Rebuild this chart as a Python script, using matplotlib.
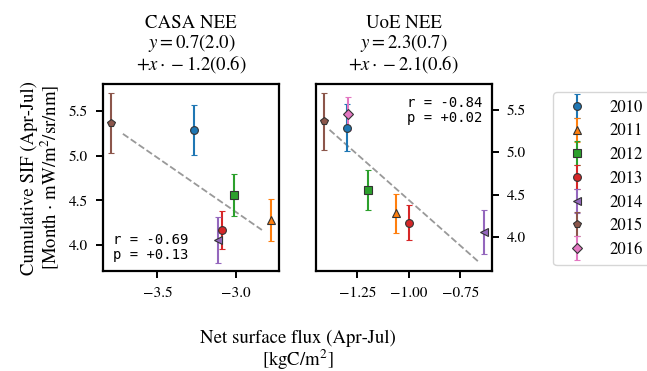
import numpy as np
import matplotlib
matplotlib.use("Agg")
import matplotlib.pyplot as plt
from matplotlib.container import ErrorbarContainer
from matplotlib.legend_handler import HandlerErrorbar

plt.rcParams['font.family'] = ['STIXGeneral', 'DejaVu Serif']
plt.rcParams['mathtext.fontset'] = 'stix'

years = ['2010', '2011', '2012', '2013', '2014', '2015', '2016']
colors = ['#1f77b4', '#ff7f0e', '#2ca02c', '#d62728', '#9467bd', '#8c564b', '#e377c2']
markers = ['o', '^', 's', 'o', '<', 'p', 'D']

sif = [5.29, 4.28, 4.56, 4.17, 4.06, 5.365, 5.455]
sif_err = [0.28, 0.23, 0.235, 0.21, 0.255, 0.337, 0.195]

casa_nee = [-3.266, -2.772, -3.011, -3.085, -3.113, -3.794, np.nan]
uoe_nee = [-1.30, -1.061, -1.20, -1.00, -0.636, -1.412, -1.296]

casa_fit = (0.742, -1.21)   # intercept, slope
uoe_fit = (2.287, -2.15)
casa_line_x = [-3.72, -2.832]
uoe_line_x = [-1.385, -0.657]

titles = ['CASA NEE\n$y = 0.7(2.0)$\n$+x \\cdot -1.2(0.6)$',
          'UoE NEE\n$y = 2.3(0.7)$\n$+x \\cdot -2.1(0.6)$']
stats = ['r = -0.69\np = +0.13', 'r = -0.84\np = +0.02']

fig = plt.figure(figsize=(6.47, 3.71), dpi=100)
W, H = 647, 371
ax1 = fig.add_axes([103.3 / W, 1 - 271 / H, 176 / W, 186.7 / H])
ax2 = fig.add_axes([316 / W, 1 - 271 / H, 175.7 / W, 186.7 / H])

for ax, xs, fit, lx, title, st in [
        (ax1, casa_nee, casa_fit, casa_line_x, titles[0], stats[0]),
        (ax2, uoe_nee, uoe_fit, uoe_line_x, titles[1], stats[1])]:
    lx = np.array(lx)
    ax.plot(lx, fit[0] + fit[1] * lx, ls='--', color='#999999', lw=1.3, zorder=1)
    for i, yr in enumerate(years):
        if np.isnan(xs[i]):
            continue
        ax.errorbar([xs[i]], [sif[i]], yerr=[sif_err[i]], fmt=markers[i],
                    color=colors[i], mfc=colors[i], mec='#333333', mew=0.8,
                    ms=5.6, capsize=2.5, elinewidth=1.5, capthick=1.5,
                    label=yr, zorder=3)
    ax.set_title(title, fontsize=13.5, linespacing=0.98, pad=10.5)
    for s in ax.spines.values():
        s.set_linewidth(1.6)
    ax.tick_params(direction='out', length=5, width=1.4, labelsize=11, pad=6)

ax1.text(0.055, 0.05, stats[0], transform=ax1.transAxes, family='DejaVu Sans Mono',
         fontsize=10, ha='left', va='bottom', linespacing=1.1)
ax2.text(0.945, 0.94, stats[1], transform=ax2.transAxes, family='DejaVu Sans Mono',
         fontsize=10, ha='right', va='top', linespacing=1.1)

ax1.set_xticks([-3.5, -3.0])
ax1.set_yticks([4.0, 4.5, 5.0, 5.5])
ax2.set_xticks([-1.25, -1.0, -0.75])
ax2.set_yticks([4.0, 4.5, 5.0, 5.5])
ax2.yaxis.tick_right()

ax1.set_ylabel('Cumulative SIF (Apr-Jul)\n[Month $\\cdot$ mW/m$^2$/sr/nm]', fontsize=13.5,
               linespacing=1.0, labelpad=6)

fig.text((103.3 + 491.7) / 2 / W, 1 - 350.5 / H, 'Net surface flux (Apr-Jul)\n[kgC/m$^2$]',
         ha='center', va='center', fontsize=13.5, linespacing=1.05)

handles, labels = ax2.get_legend_handles_labels()
leg = fig.legend(handles, labels, loc='upper left', bbox_to_anchor=(553.3 / W, 1 - 92.3 / H),
                 fontsize=12, frameon=True, labelspacing=0.46, handlelength=2.0,
                 handletextpad=0.9, borderpad=0.45, borderaxespad=0, fancybox=True,
                 handler_map={ErrorbarContainer: HandlerErrorbar(xerr_size=0.5, yerr_size=0.72)})
leg.get_frame().set_edgecolor('#cccccc')

fig.savefig('out.png', dpi=100)
